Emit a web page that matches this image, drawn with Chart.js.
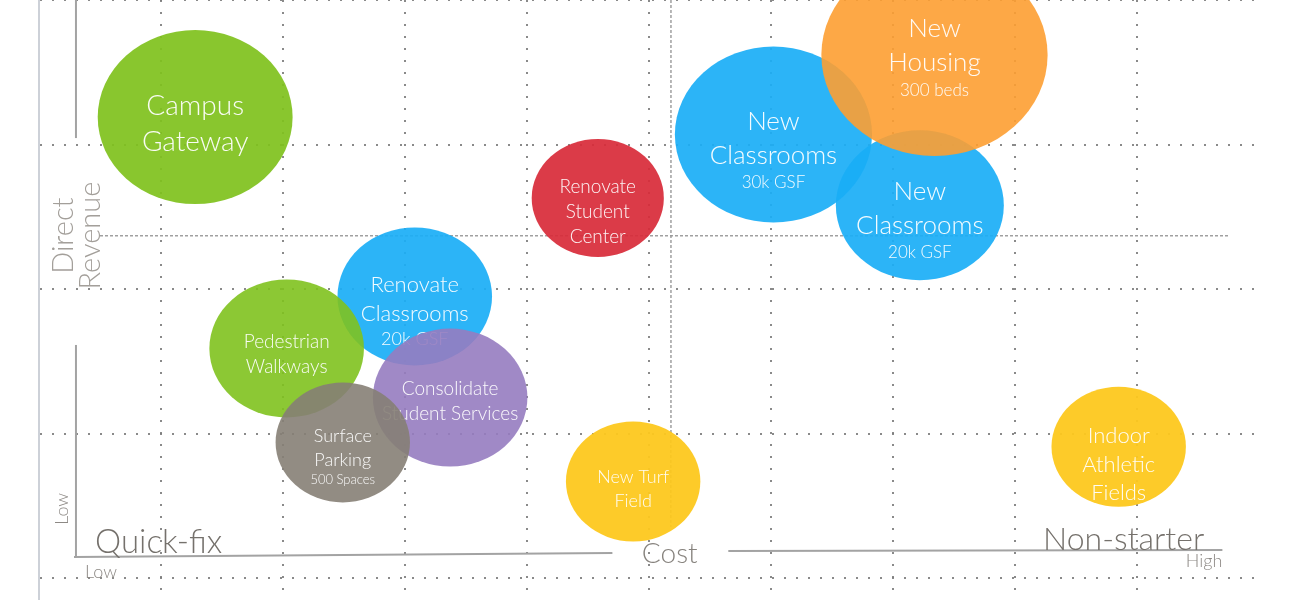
<!DOCTYPE html>
<html>
<head>
<meta charset="utf-8">
<script src="https://cdn.jsdelivr.net/npm/chart.js@4.4.1/dist/chart.umd.min.js"></script>
<style>
  body { margin: 0; background: #fff; }
  #wrap { width: 1300px; height: 600px; }
</style>
</head>
<body>
<div id="wrap"><canvas id="chart-1" width="1300" height="600"></canvas></div>
<script>
/************************ data *********************************/

const projects = [
  "Campus Gateway", "Renovate Student Center", "New Classrooms 30k GSF",
  "New Classrooms 20k GSF", "New Housing 300 beds", "Renovate Classrooms 20k GSF",
  "Pedestrian Walkways", "Consolidate Student Services", "Surface Parking 500 Spaces",
  "New Turf Field", "Indoor Athletic Fields"
];
const labelLines = [
  ["Campus", "Gateway"],
  ["Renovate", "Student", "Center"],
  ["New", "Classrooms", "30k GSF"],
  ["New", "Classrooms", "20k GSF"],
  ["New", "Housing", "300 beds"],
  ["Renovate", "Classrooms", "20k GSF"],
  ["Pedestrian", "Walkways"],
  ["Consolidate", "Student Services"],
  ["Surface", "Parking", "500 Spaces"],
  ["New Turf", "Field"],
  ["Indoor", "Athletic", "Fields"]
];
const costValues    = [1.28, 4.58, 6.02, 7.22, 7.34, 3.08, 2.03, 3.37, 2.49, 4.87, 8.85];
const revenueValues = [3.19, 2.63, 3.07, 2.58, 3.62, 1.95, 1.59, 1.25, 0.94, 0.67, 0.91];
const sizeValues    = [87, 59, 88, 75, 101, 69, 69, 69, 60, 60, 60];

const xTicks = [1, 2, 3, 4, 5, 6, 7, 8, 9];
const yTicks = [0, 1, 2, 3, 4];

/************************ styles *********************************/

const bubbleColors = [
  "rgba(128,194,30,0.93)", "rgba(216,44,58,0.93)", "rgba(26,174,246,0.92)",
  "rgba(26,174,246,0.92)", "rgba(253,158,50,0.9)", "rgba(26,174,246,0.92)",
  "rgba(128,194,30,0.9)", "rgba(150,124,192,0.9)", "rgba(134,127,118,0.9)",
  "rgba(253,200,30,0.95)", "rgba(253,200,30,0.95)"
];
// font size of every label line, and a small vertical shift of the block
const labelSizes = [
  [28, 28], [19, 19, 19], [26, 26, 17], [26, 26, 17], [26, 26, 17], [22, 22, 18],
  [19, 19], [19, 19], [18, 18, 13], [18, 18], [22, 22, 22]
];
const labelShift = [6, 13, 17, 16, 4, 15, 5, 3, 15, 7, 17];
const stretch = 1.12; // bubbles are a bit wider than tall
const FONT = 'Lato, "Open Sans", sans-serif';

/************************ plugins *********************************/

function line(ctx, sx, sy, x1, y1, x2, y2) {
  ctx.beginPath();
  ctx.moveTo(sx.getPixelForValue(x1), sy.getPixelForValue(y1));
  ctx.lineTo(sx.getPixelForValue(x2), sy.getPixelForValue(y2));
  ctx.stroke();
}

function text(ctx, sx, sy, str, x, y, size, color, align, rot) {
  ctx.save();
  ctx.translate(sx.getPixelForValue(x), sy.getPixelForValue(y));
  if (rot) ctx.rotate(rot);
  ctx.font = "300 " + size + "px " + FONT;
  ctx.fillStyle = color;
  ctx.textAlign = align || "left";
  ctx.textBaseline = "alphabetic";
  ctx.fillText(str, 0, 0);
  ctx.restore();
}

// quadrant guides, axis strokes and corner words, under the bubbles
const decoPlugin = {
  id: "deco",
  beforeDatasetsDraw(chart) {
    const ctx = chart.ctx;
    const sx = chart.scales.x, sy = chart.scales.y;
    ctx.save();
    ctx.strokeStyle = "rgba(150,150,150,0.9)";
    ctx.lineWidth = 1.5;
    ctx.setLineDash([3, 2]);
    line(ctx, sx, sy, 0.5, 2.37, 9.75, 2.37);
    line(ctx, sx, sy, 5.18, 4.0, 5.18, 0.355);
    ctx.setLineDash([]);
    ctx.strokeStyle = "#a3a3a3";
    ctx.lineWidth = 2;
    line(ctx, sx, sy, 0.303, 4.0, 0.303, 3.045);
    line(ctx, sx, sy, 0.303, 1.614, 0.303, 0.147);
    line(ctx, sx, sy, 0.287, 0.147, 4.70, 0.175);
    line(ctx, sx, sy, 5.65, 0.189, 9.70, 0.196);
    ctx.restore();

    text(ctx, sx, sy, "Quick-fix", 0.46, 0.175, 33, "#75716c");
    text(ctx, sx, sy, "Non-starter", 8.23, 0.196, 32, "#75716c");
    text(ctx, sx, sy, "High", 9.40, 0.078, 18, "#8d8985");
    text(ctx, sx, sy, "Cost", 5.17, 0.106, 28, "#87837e", "center");
    text(ctx, sx, sy, "Low", 0.377, 0.002, 18, "#8d8985");
    text(ctx, sx, sy, "Low", 0.24, 0.37, 18, "#8d8985", "left", -Math.PI / 2);
    text(ctx, sx, sy, "Direct", 0.279, 2.37, 29, "#a39f9a", "center", -Math.PI / 2);
    text(ctx, sx, sy, "Revenue", 0.50, 2.37, 29, "#a39f9a", "center", -Math.PI / 2);
  }
};

// draw the bubbles as ellipses with their white labels, in dataset order
const ellipsePlugin = {
  id: "ellipses",
  beforeDatasetDraw(chart, args) {
    const ctx = chart.ctx;
    const ds = chart.data.datasets[args.index];
    args.meta.data.forEach((pt, i) => {
      const r = pt.options.radius;
      ctx.save();
      ctx.beginPath();
      ctx.ellipse(pt.x, pt.y, r * stretch, r, 0, 0, Math.PI * 2);
      ctx.fillStyle = ds.backgroundColor[i];
      ctx.fill();

      const sizes = labelSizes[i];
      const ys = [0];
      for (let k = 1; k < sizes.length; k++) {
        ys.push(ys[k - 1] + 1.3 * (sizes[k - 1] + sizes[k]) / 2);
      }
      const mid = (ys[0] + ys[ys.length - 1]) / 2;
      ctx.fillStyle = "rgba(255,255,255,0.95)";
      ctx.textAlign = "center";
      ctx.textBaseline = "alphabetic";
      labelLines[i].forEach((s, k) => {
        ctx.font = "300 " + sizes[k] + "px " + FONT;
        ctx.fillText(s, pt.x, pt.y + labelShift[i] + ys[k] - mid + sizes[k] * 0.36);
      });
      ctx.restore();
    });
    return false;
  }
};

/************************ chart *********************************/

const bubbleData = projects.map((p, i) => ({ x: costValues[i], y: revenueValues[i], r: sizeValues[i] }));

const ctx1 = document.getElementById("chart-1").getContext("2d");
const myChart1 = new Chart(ctx1, {
  type: "bubble",
  data: {
    datasets: [
      {
        label: "Projects",
        data: bubbleData,
        backgroundColor: bubbleColors,
        borderWidth: 0,
      },
    ],
  },
  plugins: [decoPlugin, ellipsePlugin],
  options: {
    responsive: false,
    animation: false,
    events: [],
    layout: {
      autoPadding: false,
      padding: { left: 39, right: 41, top: 0, bottom: 0 },
    },
    plugins: {
      legend: { display: false },
      tooltip: { enabled: false },
    },
    scales: {
      x: {
        type: "linear",
        min: 0,
        max: 10,
        z: 1,
        afterBuildTicks: (s) => { s.ticks = xTicks.map((v) => ({ value: v })); },
        afterFit: (s) => { s.height = 0; },
        ticks: { display: false },
        grid: { color: "rgba(125,125,125,0.9)", lineWidth: 2, drawTicks: false },
        border: { display: false, dash: [2, 10] },
      },
      y: {
        type: "linear",
        min: -0.15,
        max: 4,
        z: 1,
        afterBuildTicks: (s) => { s.ticks = yTicks.map((v) => ({ value: v })); },
        afterFit: (s) => { s.width = 0; },
        ticks: { display: false },
        grid: { color: "rgba(125,125,125,0.9)", lineWidth: 2, drawTicks: false },
        border: { display: true, color: "#cdd1d8", width: 2, dash: [2, 10] },
      },
    },
  },
});
</script>
</body>
</html>
